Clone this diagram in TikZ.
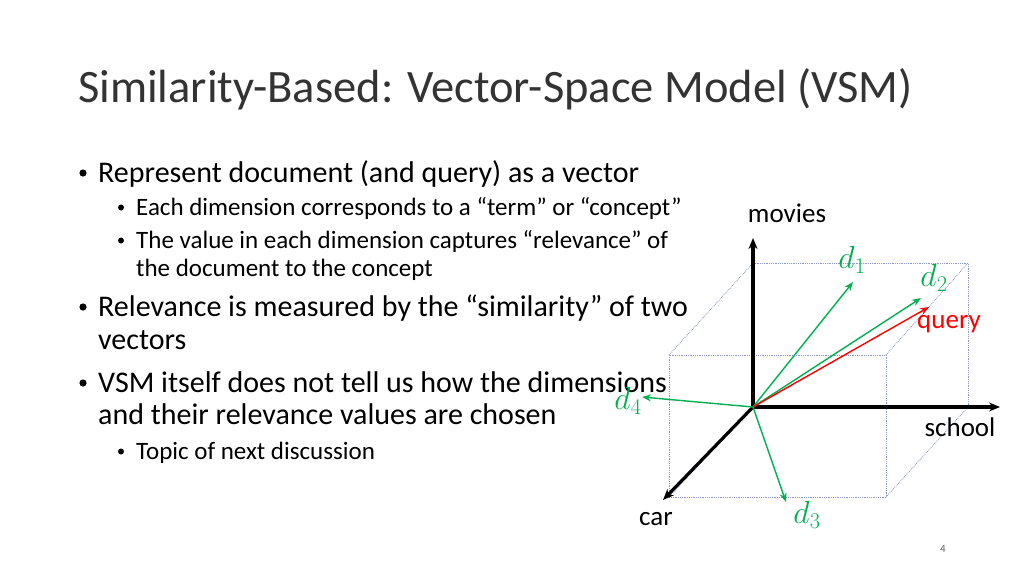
\documentclass[tikz,border=0pt]{standalone}
\usepackage{fix-cm}
\usepackage{fontspec}
\setmainfont{Carlito}
\usetikzlibrary{arrows.meta}
\definecolor{vgreen}{RGB}{0,176,80}
\definecolor{cubeblue}{RGB}{140,150,200}
\tikzset{
  axis/.style={line width=3.2pt, -{Stealth[length=11pt,width=9pt]}},
  vec/.style={line width=1.4pt, -{Stealth[length=9pt,width=7pt]}},
  cube/.style={cubeblue, line width=0.8pt, densely dotted},
  lvlone/.style={anchor=base west, inner sep=0pt, font=\fontsize{30}{36}\selectfont},
  lvltwo/.style={anchor=base west, inner sep=0pt, font=\fontsize{25}{30}\selectfont},
  lbl/.style={inner sep=0pt, font=\fontsize{27}{30}\selectfont},
  mlbl/.style={inner sep=0pt, vgreen, font=\fontsize{32}{36}\selectfont}
}
\begin{document}
\begin{tikzpicture}[x=1pt,y=-1pt]
    \useasboundingbox[fill=white] (0,0) rectangle (1024,576);

    % title and bullets
    \node[anchor=base west, inner sep=0pt, font=\fontsize{46.5}{50}\selectfont, text=black!80] (title) at (78,102) {Similarity-Based: Vector-Space Model (VSM)};
    \foreach \y/\txt [count=\i] in {182/Represent document (and query) as a vector,
        316/Relevance is measured by the “similarity” of two,
        392/VSM itself does not tell us how the dimensions}
      {\node[lvlone] (b\i) at (98,\y) {\txt};
       \fill (83,\y-9) circle (3.6);}
    \node[lvlone] (c1) at (98,349) {vectors};
    \node[lvlone] (c2) at (98,424) {and their relevance values are chosen};
    \foreach \y/\txt [count=\i] in {215/Each dimension corresponds to a “term” or “concept”,
        248/The value in each dimension captures “relevance” of,
        459/Topic of next discussion}
      {\node[lvltwo] (s\i) at (136,\y) {\txt};
       \fill (121,\y-7.5) circle (3);}
    \node[lvltwo] (s4) at (136,276) {the document to the concept};

    % cube
    \coordinate (o) at (753,407);
    \draw[cube] (753,263) -- (968,263) -- (968,407) -- (753,407);
    \draw[cube] (669,355) rectangle (886,497);
    \draw[cube] (669,355) -- (753,263);
    \draw[cube] (886,355) -- (968,263);
    \draw[cube] (886,497) -- (968,407);
    \draw[cube] (669,497) -- (o);

    % axes
    \coordinate (mv) at (753,238);
    \coordinate (sc) at (1000,407);
    \coordinate (ca) at (663,500);
    \draw[axis] (o) -- (mv);
    \draw[axis] (o) -- (sc);
    \draw[axis] (o) -- (ca);
    \node[lbl] (movies) at (787,213) {movies};
    \node[lbl] (school) at (960,427) {school};
    \node[lbl] (car) at (656,519) {car};

    % vectors
    \node[mlbl] (d1) at (852,260) {$d_1$};
    \node[mlbl] (d2) at (934,278) {$d_2$};
    \node[mlbl] (d3) at (807,515) {$d_3$};
    \node[mlbl] (d4) at (628,401) {$d_4$};
    \node[lbl, red] (query) at (949,324) {query};
    \draw[vec, vgreen] (o) -- (853,282);
    \draw[vec, vgreen] (o) -- (921,298);
    \draw[vec, red] (o) -- (929,307);
    \draw[vec, vgreen] (o) -- (786,502);
    \draw[vec, vgreen] (o) -- (642,397);

    \node[inner sep=0pt, font=\fontsize{11}{12}\selectfont, text=black!60] (page) at (943,549) {4};
\end{tikzpicture}
\end{document}
